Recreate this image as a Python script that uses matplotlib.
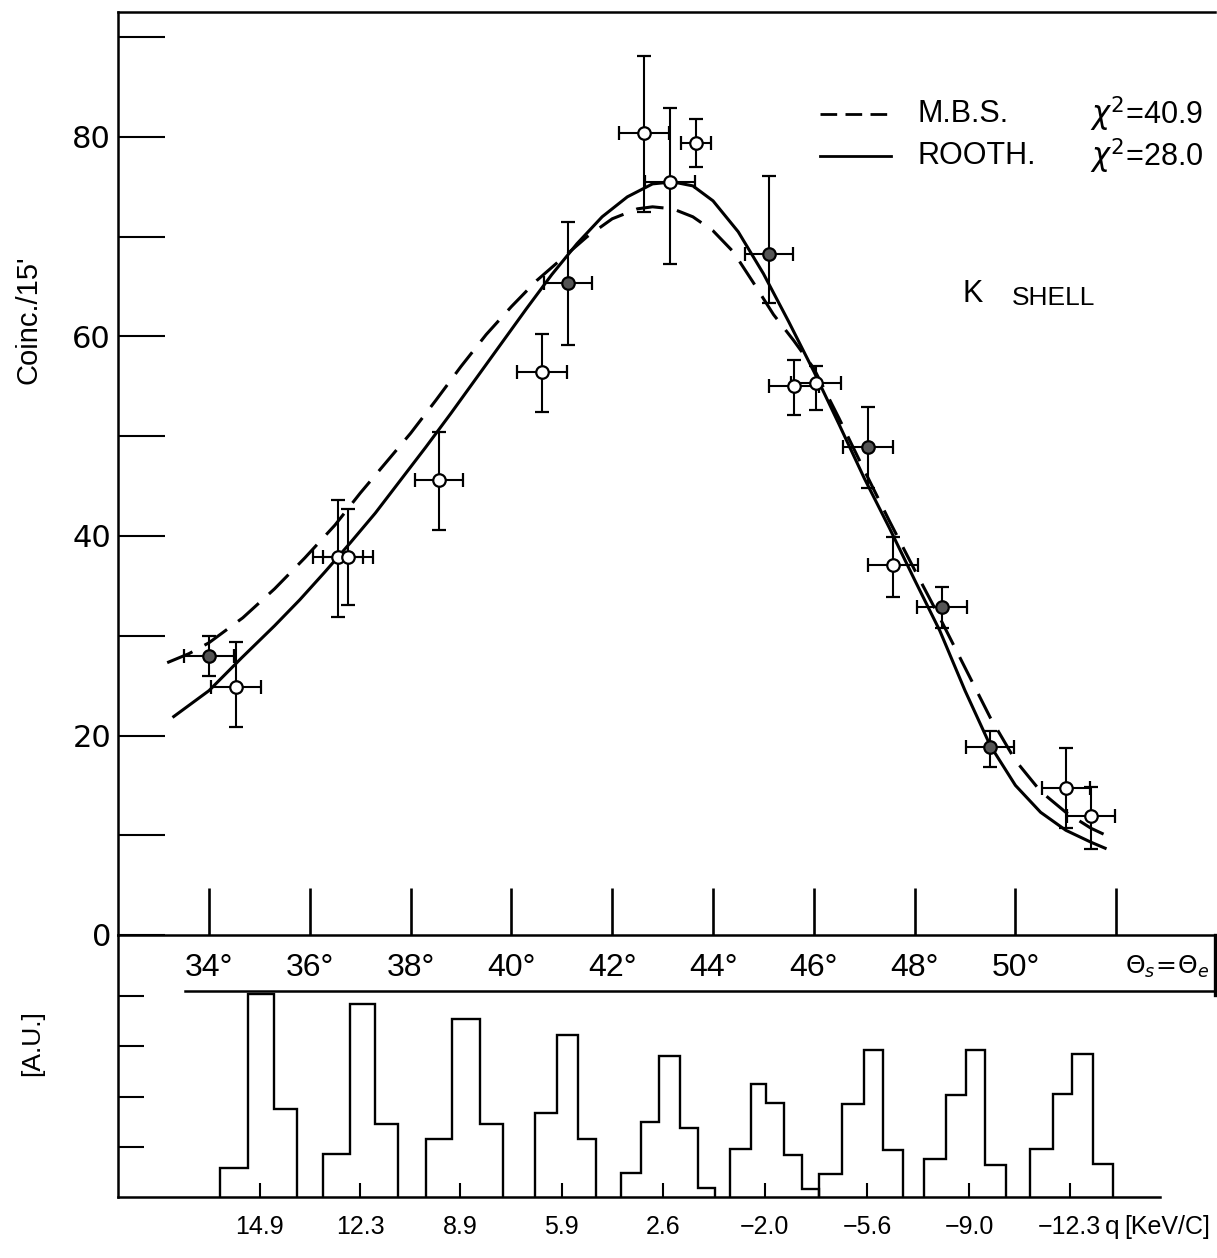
import matplotlib
matplotlib.use('Agg')
import matplotlib.pyplot as plt
from matplotlib.lines import Line2D

plt.rcParams['font.family'] = ['Liberation Sans', 'DejaVu Sans']
plt.rcParams['mathtext.fontset'] = 'dejavusans'

# ---------------- data ----------------
theta = [34.0, 34.54, 36.56, 36.76, 38.56, 40.61, 41.12, 42.63, 43.15, 43.66,
         45.11, 45.61, 46.04, 47.08, 47.57, 48.54, 49.50, 51.00, 51.50]
coinc = [28.0, 24.9, 37.9, 37.9, 45.6, 56.4, 65.4, 80.4, 75.5, 79.4,
         68.3, 55.0, 55.3, 48.9, 37.1, 32.9, 18.8, 14.7, 11.9]
err_lo = [2.0, 4.0, 6.0, 4.8, 5.0, 4.0, 6.3, 7.9, 8.2, 2.4,
          4.9, 2.9, 2.7, 4.1, 3.2, 2.1, 2.0, 4.0, 3.3]
err_hi = [2.0, 4.5, 5.7, 4.8, 4.8, 3.9, 6.1, 7.7, 7.4, 2.4,
          7.8, 2.6, 1.7, 4.0, 2.8, 2.0, 1.7, 4.0, 2.9]
theta_err = [0.5, 0.5, 0.5, 0.5, 0.47, 0.5, 0.47, 0.5, 0.5, 0.3,
             0.47, 0.5, 0.5, 0.5, 0.5, 0.5, 0.48, 0.47, 0.48]
filled = [1, 0, 0, 0, 0, 0, 1, 0, 0, 0,
          1, 0, 0, 1, 0, 1, 1, 0, 0]

mbs_theta = [33.17, 33.6, 34.0, 34.67, 35.3, 35.9, 36.5, 37.0, 37.5, 38.0, 38.5,
             39.0, 39.5, 40.0, 40.5, 41.0, 41.5, 42.0, 42.5, 42.8, 43.2, 43.6,
             44.0, 44.4, 44.8, 45.2, 45.6, 46.0, 46.5, 47.0, 47.5, 48.0, 48.5,
             49.0, 49.5, 50.0, 50.5, 51.0, 51.5, 51.88]
mbs_val = [27.3, 28.2, 29.3, 31.8, 34.7, 37.8, 41.1, 44.3, 47.3, 50.3, 53.6,
           57.0, 60.2, 63.0, 65.6, 67.8, 70.0, 71.8, 72.8, 73.0, 72.8, 72.0,
           70.6, 68.5, 65.4, 62.2, 59.6, 56.8, 51.8, 46.6, 41.5, 36.6, 31.8,
           26.8, 21.8, 17.5, 14.4, 12.3, 10.7, 9.8]

rooth_theta = [33.3, 34.0, 34.65, 35.3, 35.8, 36.3, 36.8, 37.3, 37.8, 38.3, 38.8,
               39.3, 39.8, 40.3, 40.8, 41.3, 41.8, 42.3, 42.8, 43.2, 43.6, 44.0,
               44.5, 45.0, 45.5, 46.0, 46.5, 47.0, 47.5, 48.0, 48.5, 49.0, 49.5,
               50.0, 50.5, 51.0, 51.5, 51.78]
rooth_val = [21.9, 24.5, 27.8, 31.0, 33.6, 36.4, 39.3, 42.3, 45.6, 48.9, 52.3,
             55.8, 59.3, 62.8, 66.2, 69.3, 72.0, 74.0, 75.3, 75.5, 75.1, 73.6,
             70.5, 66.3, 61.5, 56.5, 51.2, 45.8, 40.8, 35.6, 30.5, 24.5, 19.0,
             15.0, 12.3, 10.5, 9.3, 8.7]

angle_ticks = [34, 36, 38, 40, 42, 44, 46, 48, 50, 52]
angle_labels = ['34°', '36°', '38°', '40°', '42°', '44°', '46°', '48°', '50°', '']
coinc_ticks = [0, 10, 20, 30, 40, 50, 60, 70, 80, 90]
coinc_labels = ['0', '', '20', '', '40', '', '60', '', '80', '']

q_pos = [35.01, 37.0, 38.98, 41.0, 43.0, 45.03, 47.06, 49.08, 51.08]
q_labels = ['14.9', '12.3', '8.9', '5.9', '2.6', '\u22122.0', '\u22125.6', '\u22129.0', '\u221212.3']

hist_edges = [
    [34.22, 34.77, 35.29, 35.75],
    [36.26, 36.80, 37.29, 37.75],
    [38.31, 38.82, 39.38, 39.83],
    [40.47, 40.90, 41.32, 41.68],
    [42.17, 42.57, 42.93, 43.35, 43.70, 44.04],
    [44.34, 44.75, 45.05, 45.41, 45.77, 46.10],
    [46.10, 46.56, 47.00, 47.37, 47.77],
    [48.19, 48.62, 49.02, 49.40, 49.81],
    [50.29, 50.75, 51.12, 51.54, 51.94],
]
hist_heights = [
    [0.58, 4.04, 1.75],
    [0.86, 3.84, 1.46],
    [1.16, 3.55, 1.46],
    [1.67, 3.23, 1.16],
    [0.48, 1.50, 2.80, 1.37, 0.18],
    [0.96, 2.25, 1.87, 0.83, 0.15],
    [0.45, 1.86, 2.92, 0.93],
    [0.76, 2.03, 2.93, 0.64],
    [0.95, 2.04, 2.85, 0.65],
]

# ---------------- layout ----------------
W, H = 1217, 1258
fig = plt.figure(figsize=(W / 100, H / 100), dpi=100)
fig.patch.set_facecolor('white')


def fx(px):
    return px / W


def fy(py):
    return 1 - py / H


PX_DEG = 50.4
X0 = 32.194
ax2 = fig.add_axes([fx(118), fy(1197), (1160 - 118) / W, (1197 - 935) / H])
ax2.set_xlim(X0, X0 + (1160 - 118) / PX_DEG)
ax2.set_ylim(0, 262 / 50.25)
ax2.patch.set_visible(False)

ax = fig.add_axes([fx(118), fy(935), (1215 - 118) / W, (935 - 12) / H])
ax.set_xlim(X0, X0 + (1215 - 118) / PX_DEG)
ax.set_ylim(0, 923 / 9.975)
ax.patch.set_visible(False)

LW = 1.8
for a in (ax, ax2):
    for s in a.spines.values():
        s.set_linewidth(LW)
ax.spines['right'].set_visible(False)
ax2.spines['right'].set_visible(False)
ax2.spines['top'].set_visible(False)

ax.set_xticks(angle_ticks)
ax.set_xticklabels(angle_labels)
ax.set_yticks(coinc_ticks)
ax.set_yticklabels(coinc_labels, family=['DejaVu Sans'])
ax.tick_params(axis='y', direction='in', length=34, width=1.5, pad=5, labelsize=22)
ax.tick_params(axis='x', direction='in', length=34, width=1.9, pad=13, labelsize=23)

ax2.set_yticks([1, 2, 3, 4])
ax2.set_xticks(q_pos)
ax2.set_xticklabels(q_labels)
ax2.tick_params(axis='y', direction='in', length=19, width=1.5, labelleft=False)
ax2.tick_params(axis='x', direction='in', length=10, width=1.5, pad=13, labelsize=18)

# ---------------- curves ----------------
ax.plot(mbs_theta, mbs_val, color='k', lw=2.2, dashes=(9, 4.5), zorder=2)
ax.plot(rooth_theta, rooth_val, color='k', lw=2.2, zorder=2)

# ---------------- data points ----------------
ax.errorbar(theta, coinc, yerr=[err_lo, err_hi], xerr=theta_err, fmt='none',
            ecolor='k', elinewidth=1.5, capsize=5, capthick=1.6, zorder=3)
th_open = [t for t, f in zip(theta, filled) if not f]
c_open = [c for c, f in zip(coinc, filled) if not f]
th_fill = [t for t, f in zip(theta, filled) if f]
c_fill = [c for c, f in zip(coinc, filled) if f]
ax.plot(th_open, c_open, 'o', ms=9, mfc='white', mec='k', mew=1.6, zorder=4)
ax.plot(th_fill, c_fill, 'o', ms=9, mfc='#555555', mec='k', mew=1.6, zorder=4)

# ---------------- legend (manual) ----------------
ax.add_line(Line2D([0.640, 0.705], [0.8895, 0.8895], transform=ax.transAxes,
                   color='k', lw=2.0, dashes=(6, 3)))
ax.add_line(Line2D([0.640, 0.705], [0.844, 0.844], transform=ax.transAxes,
                   color='k', lw=2.0))
ax.text(0.729, 0.8895, 'M.B.S.', transform=ax.transAxes, fontsize=22, va='center', ha='left')
ax.text(0.729, 0.844, 'ROOTH.', transform=ax.transAxes, fontsize=22, va='center', ha='left')
ax.text(0.886, 0.8895, r'$\chi^2$=40.9', transform=ax.transAxes, fontsize=22, va='center', ha='left')
ax.text(0.886, 0.844, r'$\chi^2$=28.0', transform=ax.transAxes, fontsize=22, va='center', ha='left')

ax.text(0.770, 0.6945, 'K', transform=ax.transAxes, fontsize=22, va='center', ha='left')
ax.text(0.815, 0.690, 'SHELL', transform=ax.transAxes, fontsize=19, va='center', ha='left')

# ---------------- band under the angle axis ----------------
fig.add_artist(Line2D([fx(185), fx(1215)], [fy(991), fy(991)], transform=fig.transFigure,
                      color='k', lw=LW))
fig.add_artist(Line2D([fx(1215), fx(1215)], [fy(935), fy(995)], transform=fig.transFigure,
                      color='k', lw=2.4))
fig.text(fx(1167), fy(967), r'$\Theta_s\!=\!\Theta_e$', fontsize=18, ha='center', va='center')

# ---------------- histograms ----------------
for edges, h in zip(hist_edges, hist_heights):
    ax2.stairs(h, edges, baseline=0, color='k', lw=1.7)

fig.text(fx(1112), fy(1227), 'q', fontsize=19, ha='center', va='center')
fig.text(fx(1124), fy(1227), '[KeV/C]', fontsize=18, ha='left', va='center')

# ---------------- axis labels ----------------
fig.text(fx(28), fy(320), "Coinc./15'", rotation=90, fontsize=21, ha='center', va='center')
fig.text(fx(32), fy(1043), '[A.U.]', rotation=90, fontsize=19, ha='center', va='center')

fig.savefig('out.png', dpi=100, facecolor='white')
